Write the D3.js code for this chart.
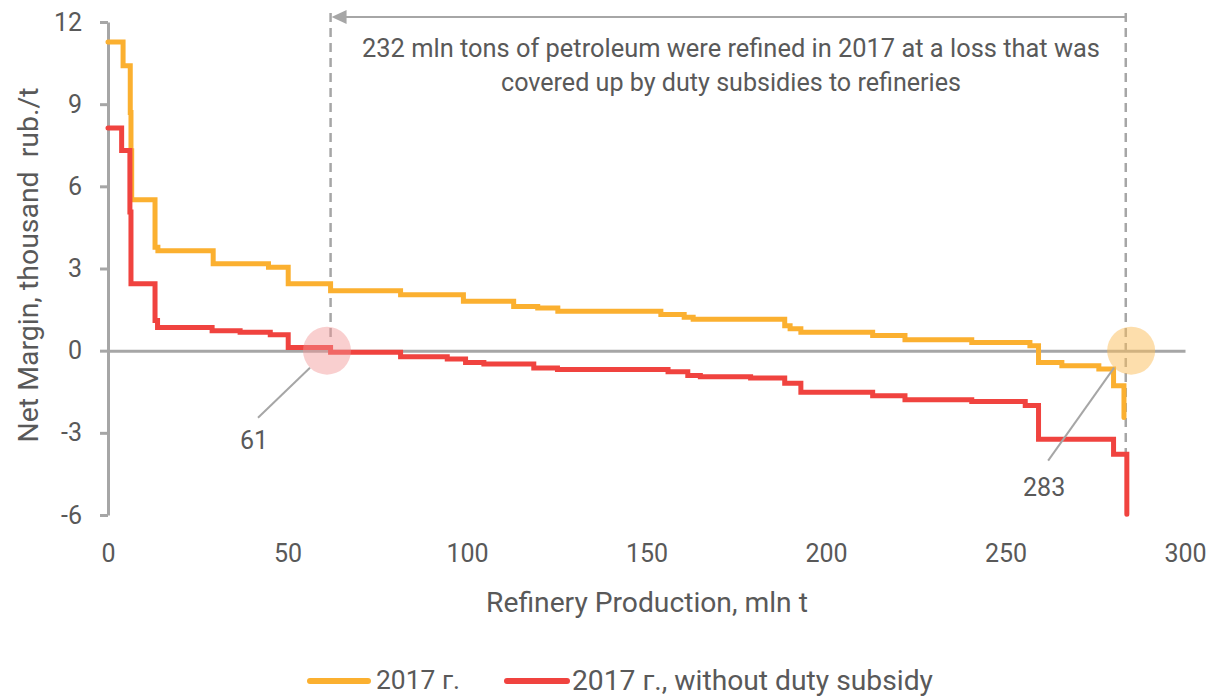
<!DOCTYPE html>
<html><head><meta charset="utf-8">
<script src="https://cdn.jsdelivr.net/npm/d3@7"></script>
<style>body{margin:0;background:#fff}svg{display:block}</style>
</head><body>
<svg id="c" width="1219" height="697"></svg>
<script>
// ---- data ----
const xTicks = [0, 50, 100, 150, 200, 250, 300];
const yTicks = [-6, -3, 0, 3, 6, 9, 12];
const seriesNames = ["2017 г.", "2017 г., without duty subsidy"];
// step starts (cumulative production, mln t) and net margin (thousand rub./t)
const withSubsidyX = [0, 4.2, 6.2, 6.4, 6.6, 13.1, 13.9, 29.3, 44.7, 50.2, 62, 81.5, 99, 113, 119.7, 125.3, 154, 160.5, 163, 188.5, 190, 193, 213, 222, 240.6, 256.8, 259.2, 265.7, 276, 280.1, 283];
const withSubsidyY = [11.27, 10.4, 8.7, 7.3, 5.51, 3.78, 3.65, 3.17, 3.05, 2.44, 2.19, 2.04, 1.80, 1.61, 1.56, 1.44, 1.32, 1.22, 1.15, 0.91, 0.80, 0.67, 0.55, 0.40, 0.30, 0.18, -0.43, -0.55, -0.67, -1.28, -2.44];
const noSubsidyX = [0, 3.8, 6.1, 6.4, 13.1, 13.8, 29, 36.8, 45.2, 50.2, 62, 81.5, 94.5, 99.6, 104.7, 118.6, 125.2, 156, 161.5, 165, 179, 188.5, 193, 213, 222, 240.6, 255.5, 259.2, 280.1, 283.8];
const noSubsidyY = [8.13, 7.31, 5.06, 2.44, 1.10, 0.85, 0.73, 0.67, 0.58, 0.12, -0.06, -0.22, -0.30, -0.43, -0.49, -0.63, -0.69, -0.77, -0.91, -0.95, -1.00, -1.19, -1.52, -1.65, -1.79, -1.86, -2.00, -3.23, -3.78, -5.97];
const breakEven = [61, 285];           // highlighted points on the zero line
const breakEvenLabels = ["61", "283"];
const lossRange = [62, 283.5];         // bracket of the annotation
const annotationLines = ["232 mln tons of petroleum were refined in 2017 at a loss that was", "covered up by duty subsidies to refineries"];
const xTitle = "Refinery Production, mln t";
const yTitle = "Net Margin, thousand\u00a0\u00a0rub./t";

// ---- setup ----
const svg = d3.select("#c");
const FONT = "Roboto, 'Liberation Sans', sans-serif";
const TXT = "#595959", GRID = "#a6a6a6";
const ORANGE = "#fbb030", RED = "#f0433f";
const x = d3.scaleLinear().domain([0, 300]).range([108, 1185]);
const y = d3.scaleLinear().domain([-6, 12]).range([515, 22]);
const fmt = d => String(d);

function fit(sel, w) {
  sel.each(function () {
    const t = d3.select(this);
    const base = 25;
    t.attr("font-size", base);
    const len = this.getComputedTextLength();
    t.attr("font-size", (base * w / len).toFixed(2));
  });
  return sel;
}

// y axis
const ya = svg.append("g").attr("transform", `translate(${x(0)},0)`)
  .call(d3.axisLeft(y).tickValues(yTicks).tickFormat(fmt).tickSize(8).tickSizeOuter(0).tickPadding(18));
ya.select(".domain").attr("stroke", GRID).attr("stroke-width", 3);
ya.selectAll(".tick line").attr("stroke", GRID).attr("stroke-width", 3);
ya.selectAll(".tick text").attr("fill", TXT).attr("font-family", FONT).attr("font-size", 25);

// x axis along zero line, labels at bottom
const xa = svg.append("g").attr("transform", `translate(0,${y(0)})`)
  .call(d3.axisBottom(x).tickValues(xTicks).tickFormat(fmt).tickSize(0).tickSizeOuter(0));
xa.select(".domain").attr("stroke", GRID).attr("stroke-width", 3);
xa.selectAll(".tick text").attr("fill", TXT).attr("font-family", FONT).attr("font-size", 25)
  .attr("y", 553 - y(0)).attr("dy", "0.35em");

// axis titles
svg.append("text").attr("x", 647).attr("y", 602).attr("dy", "0.35em").attr("text-anchor", "middle")
  .attr("fill", TXT).attr("font-family", FONT).text(xTitle).call(fit, 322);
svg.append("text").attr("transform", "translate(28,265) rotate(-90)").attr("dy", "0.35em").attr("text-anchor", "middle")
  .attr("fill", TXT).attr("font-family", FONT).text(yTitle).call(fit, 355);

// annotation bracket
const bracket = svg.append("g").attr("stroke", GRID).attr("stroke-width", 2.5).attr("fill", "none");
bracket.append("line").attr("x1", x(lossRange[0])).attr("x2", x(lossRange[0])).attr("y1", 13).attr("y2", 343).attr("stroke-dasharray", "9,6");
bracket.append("line").attr("x1", x(lossRange[1])).attr("x2", x(lossRange[1])).attr("y1", 13).attr("y2", 452).attr("stroke-dasharray", "9,6");
bracket.append("line").attr("x1", x(lossRange[0]) + 10).attr("x2", x(lossRange[1])).attr("y1", 17).attr("y2", 17).attr("stroke-width", 2);
svg.append("path").attr("fill", GRID)
  .attr("d", `M${x(lossRange[0]) + 1},17 L${x(lossRange[0]) + 16},10 L${x(lossRange[0]) + 16},24 Z`);
svg.append("g").selectAll("text").data(annotationLines).join("text")
  .attr("x", 731).attr("y", (d, i) => 48 + i * 34).attr("dy", "0.35em").attr("text-anchor", "middle")
  .attr("fill", TXT).attr("font-family", FONT).text(d => d)
  .each(function (d, i) { d3.select(this).call(fit, i === 0 ? 738 : 460); });

// series
const line = d3.line().x(d => x(d[0])).y(d => y(d[1])).curve(d3.curveStepAfter);
const s1 = withSubsidyX.map((v, i) => [v, withSubsidyY[i]]);
const s2 = noSubsidyX.map((v, i) => [v, noSubsidyY[i]]);
svg.append("path").datum(s1).attr("d", line).attr("fill", "none").attr("stroke", ORANGE)
  .attr("stroke-width", 5).attr("stroke-linecap", "round");
svg.append("path").datum(s2).attr("d", line).attr("fill", "none").attr("stroke", RED)
  .attr("stroke-width", 5).attr("stroke-linecap", "round");

// highlight circles
svg.append("circle").attr("cx", x(breakEven[0])).attr("cy", y(0)).attr("r", 24).attr("fill", "#f29595").attr("fill-opacity", 0.45);
svg.append("circle").attr("cx", x(breakEven[1])).attr("cy", y(0)).attr("r", 24).attr("fill", "#fbbe5a").attr("fill-opacity", 0.5);

// leader lines and labels
const lead = svg.append("g").attr("stroke", GRID).attr("stroke-width", 2);
lead.append("line").attr("x1", x(breakEven[0]) - 17).attr("y1", y(0) + 17).attr("x2", x(breakEven[0]) - 69).attr("y2", y(0) + 67);
lead.append("line").attr("x1", x(breakEven[1]) - 17).attr("y1", y(0) + 17).attr("x2", x(breakEven[1]) - 83).attr("y2", y(0) + 110);
svg.append("text").attr("x", x(breakEven[0]) - 73).attr("y", y(0) + 90).attr("dy", "0.35em").attr("text-anchor", "middle")
  .attr("fill", TXT).attr("font-family", FONT).attr("font-size", 25).text(breakEvenLabels[0]);
svg.append("text").attr("x", x(breakEven[1]) - 87).attr("y", y(0) + 137).attr("dy", "0.35em").attr("text-anchor", "middle")
  .attr("fill", TXT).attr("font-family", FONT).attr("font-size", 25).text(breakEvenLabels[1]);

// legend
const lg = svg.append("g");
const legendItems = [{name: seriesNames[0], c: ORANGE, x0: 310, x1: 368, tx: 376, w: 84},
                     {name: seriesNames[1], c: RED, x0: 507, x1: 567, tx: 572, w: 361}];
legendItems.forEach(it => {
  lg.append("line").attr("x1", it.x0).attr("x2", it.x1).attr("y1", 681).attr("y2", 681)
    .attr("stroke", it.c).attr("stroke-width", 6).attr("stroke-linecap", "round");
  lg.append("text").attr("x", it.tx).attr("y", 680).attr("dy", "0.35em").attr("fill", TXT)
    .attr("font-family", FONT).text(it.name).call(fit, it.w);
});
</script>
</body></html>
